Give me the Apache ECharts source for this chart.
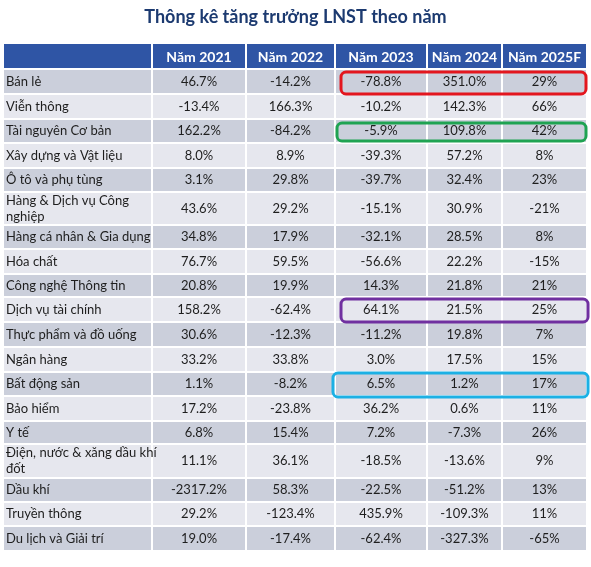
<!DOCTYPE html>
<html><head><meta charset="utf-8">
<script src="https://cdn.jsdelivr.net/npm/echarts@6/dist/echarts.min.js"></script>
<style>html,body{margin:0;padding:0;background:#fff}#c{width:591px;height:567px}</style>
</head><body><div id="c"></div>
<script>
const title = "Thông kê tăng trưởng LNST theo năm";
const headers = ["Năm 2021","Năm 2022","Năm 2023","Năm 2024","Năm 2025F"];
const categories = ["Bán lẻ","Viễn thông","Tài nguyên Cơ bản","Xây dựng và Vật liệu","Ô tô và phụ tùng","Hàng & Dịch vụ Công\nnghiệp","Hàng cá nhân & Gia dụng","Hóa chất","Công nghệ Thông tin","Dịch vụ tài chính","Thực phẩm và đồ uống","Ngân hàng","Bất động sản","Bảo hiểm","Y tế","Điện, nước & xăng dầu khí\nđốt","Dầu khí","Truyền thông","Du lịch và Giải trí"];
const y2021 = [46.7,-13.4,162.2,8.0,3.1,43.6,34.8,76.7,20.8,158.2,30.6,33.2,1.1,17.2,6.8,11.1,-2317.2,29.2,19.0];
const y2022 = [-14.2,166.3,-84.2,8.9,29.8,29.2,17.9,59.5,19.9,-62.4,-12.3,33.8,-8.2,-23.8,15.4,36.1,58.3,-123.4,-17.4];
const y2023 = [-78.8,-10.2,-5.9,-39.3,-39.7,-15.1,-32.1,-56.6,14.3,64.1,-11.2,3.0,6.5,36.2,7.2,-18.5,-22.5,435.9,-62.4];
const y2024 = [351.0,142.3,109.8,57.2,32.4,30.9,28.5,22.2,21.8,21.5,19.8,17.5,1.2,0.6,-7.3,-13.6,-51.2,-109.3,-327.3];
const y2025F = [29,66,42,8,23,-21,8,-15,21,25,7,15,17,11,26,9,13,11,-65];
const highlightRows = ["Bán lẻ","Tài nguyên Cơ bản","Dịch vụ tài chính","Bất động sản"];

// ---- layout / style (not data) ----
const colEdges = [4,153,247,336,428,503,588];
const rowEdges = [44,70,95,120,144,169,193,226,250,275,298,323,348,373,397,422,445,479,503,527,552];
const GAP = 2;
const highlightColors = ["#e3161e","#1fa352","#7030a0","#1cb0e4"];
const highlightInsets = [[5,0,2,1],[1,0,3,-1],[5,2,1,1],[-3,2,0,2]]; // dx0, dx1, dy0, dy1
const HEADER_BG = "#2f55a5", DARK = "#cbcfdb", LIGHT = "#e6e7ee";
const FONT = "Lato";

const years = [y2021,y2022,y2023,y2024,y2025F];
function fmt(v, ci){ return (ci===4 ? v.toFixed(0) : v.toFixed(1)) + "%"; }

const cells = [];
cells.push({value:[0,0], text:"", header:true});
headers.forEach((h,i)=>cells.push({value:[i+1,0], text:h, header:true}));
categories.forEach((cat,r)=>{
  cells.push({value:[0,r+1], text:cat});
  years.forEach((arr,ci)=>cells.push({value:[ci+1,r+1], text:fmt(arr[r],ci)}));
});

const chart = echarts.init(document.getElementById('c'), null, {renderer:'canvas'});
chart.setOption({
  animation:false,
  title:{text:title,left:'center',top:3,textStyle:{fontFamily:FONT,fontSize:18,fontWeight:'bold',color:'#1c3a70'}},
  grid:{left:0,right:0,top:0,bottom:0},
  xAxis:{type:'value',min:0,max:591,show:false},
  yAxis:{type:'value',min:0,max:567,inverse:true,show:false},
  series:[{
    type:'custom',
    coordinateSystem:'cartesian2d',
    data:cells.map(c=>({value:c.value, text:c.text, header:!!c.header})),
    encode:{x:0,y:1},
    renderItem:function(params, api){
      const item = cells[params.dataIndex];
      const ci = item.value[0], ri = item.value[1];
      const p0 = api.coord([colEdges[ci], rowEdges[ri]]);
      const p1 = api.coord([colEdges[ci+1]-GAP, rowEdges[ri+1]-GAP]);
      const w = p1[0]-p0[0], h = p1[1]-p0[1];
      const fill = item.header ? HEADER_BG : (ri % 2 === 1 ? DARK : LIGHT);
      const children = [{type:'rect', z2:0, shape:{x:p0[0],y:p0[1],width:w,height:h}, style:{fill:fill}}];
      if (item.text) {
        children.push({type:'text', z2:10, style:{
          text:item.text,
          x: ci===0 ? p0[0]+2 : p0[0]+w/2,
          y: p0[1]+h/2+ (item.header?1:0),
          align: ci===0 ? 'left' : 'center',
          verticalAlign:'middle',
          fill: item.header ? '#ffffff' : '#1e1e1e',
          font: (item.header ? 'bold 14px ' : '13px ') + FONT,
          lineHeight:16
        }});
      }
      return {type:'group', children:children};
    }
  },{
    type:'custom',
    coordinateSystem:'cartesian2d',
    data:highlightRows.map(n=>[3, categories.indexOf(n)+1]),
    encode:{x:0,y:1},
    z:5,
    renderItem:function(params, api){
      const ri = api.value(1);
      const ins = highlightInsets[params.dataIndex];
      const p0 = api.coord([colEdges[3]+ins[0], rowEdges[ri]+ins[2]]);
      const p1 = api.coord([colEdges[6]-GAP+ins[1], rowEdges[ri+1]-GAP+ins[3]]);
      return {type:'rect', shape:{x:p0[0],y:p0[1],width:p1[0]-p0[0],height:p1[1]-p0[1],r:5},
        style:{fill:'none', stroke:highlightColors[params.dataIndex], lineWidth:3}};
    }
  }]
});
</script></body></html>
